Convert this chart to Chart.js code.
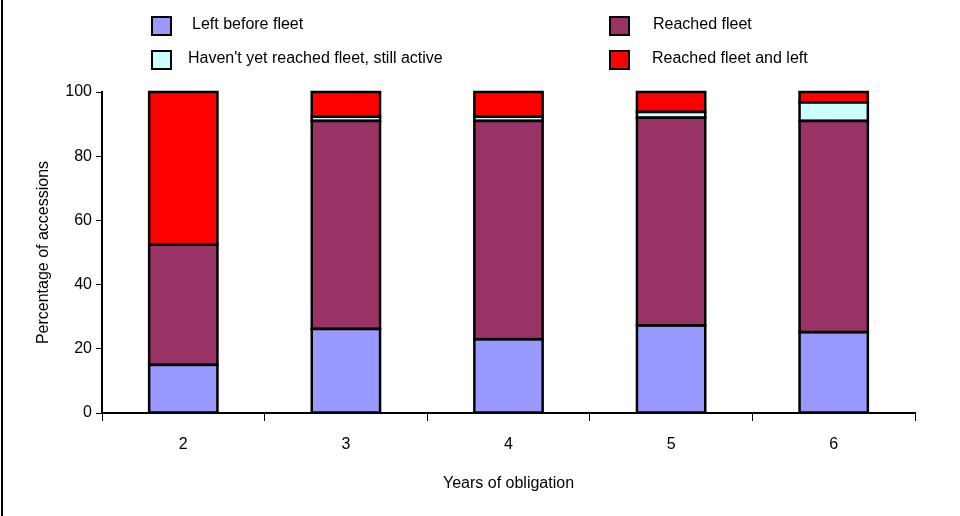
<!DOCTYPE html>
<html>
<head>
<meta charset="utf-8">
<script src="https://cdn.jsdelivr.net/npm/chart.js@4/dist/chart.umd.min.js"></script>
<style>
  html,body{margin:0;padding:0;background:#fff}
  #wrap{width:960px;height:516px;position:relative}
</style>
</head>
<body>
<div id="wrap"><canvas id="c"></canvas></div>
<script>
// data
const years        = ['2','3','4','5','6'];
const leftBefore   = [15.0, 26.2, 23.0, 27.3, 25.2];
const reached      = [37.5, 64.8, 68.0, 64.7, 65.8];
const notYet       = [0.0, 1.3, 1.3, 1.8, 5.8];
const reachedLeft  = [47.5, 7.7, 7.7, 6.2, 3.2];
const yTicks       = [0, 20, 40, 60, 80, 100];

const FONT = 'Liberation Sans, Arial, sans-serif';

const series = [
  { label:'Left before fleet', data:leftBefore, color:'#9999ff' },
  { label:'Haven\'t yet reached fleet, still active', data:notYet, color:'#ccffff' },
  { label:'Reached fleet', data:reached, color:'#993366' },
  { label:'Reached fleet and left', data:reachedLeft, color:'#ff0000' }
];
// stack order bottom -> top: left before, reached, not yet, reached & left
const stackOrder = [0, 2, 1, 3];

// legend cells: box x, row y, text offset
const legendCells = [
  { s:0, x:152, y:26, dx:40 },
  { s:2, x:610, y:26, dx:43 },
  { s:1, x:152, y:60, dx:36 },
  { s:3, x:610, y:60, dx:42 }
];

// ─ bar outlines, drawn from the bar elements the library laid out ─
const outlines = {
  id:'outlines',
  afterDatasetsDraw(chart) {
    const ctx = chart.ctx;
    ctx.save();
    ctx.strokeStyle = '#000';
    ctx.lineWidth = 2.5;
    chart.data.datasets.forEach((ds, di) => {
      chart.getDatasetMeta(di).data.forEach(bar => {
        const { x, y, base, width } = bar.getProps(['x','y','base','width'], true);
        if (Math.abs(base - y) < 0.5) return;
        ctx.strokeRect(x - width/2, Math.min(y, base), width, Math.abs(base - y));
      });
    });
    ctx.restore();
  }
};

// ─ custom legend + frame line ─
const deco = {
  id:'deco',
  afterDraw(chart) {
    const ctx = chart.ctx;
    ctx.save();
    ctx.strokeStyle = '#000';
    ctx.lineWidth = 2;
    ctx.beginPath(); ctx.moveTo(2,0); ctx.lineTo(2,516); ctx.stroke();

    ctx.font = `16px ${FONT}`;
    ctx.textBaseline = 'middle';
    legendCells.forEach(c => {
      const s = series[c.s];
      ctx.fillStyle = s.color;
      ctx.fillRect(c.x, c.y-9, 19, 18);
      ctx.lineWidth = 2;
      ctx.strokeRect(c.x, c.y-9, 19, 18);
      ctx.fillStyle = '#000';
      ctx.fillText(s.label, c.x + c.dx, c.y - 1);
    });
    ctx.restore();
  }
};

new Chart(document.getElementById('c'), {
  type:'bar',
  data:{
    labels: years,
    datasets: stackOrder.map(i => ({
      label: series[i].label,
      data: series[i].data,
      backgroundColor: series[i].color,
      borderWidth: 0,
      categoryPercentage: 1,
      barPercentage: 0.42
    }))
  },
  options:{
    responsive:true, maintainAspectRatio:false, animation:false,
    layout:{ padding:{ top:92, right:45, left:30, bottom:19 } },
    plugins:{ legend:{ display:false }, tooltip:{ enabled:false } },
    scales:{
      x:{
        stacked:true,
        grid:{ display:true, drawOnChartArea:false, color:'#000', tickLength:8, offset:true },
        border:{ color:'#000', width:2 },
        ticks:{ color:'#000', font:{ family:FONT, size:16 }, padding:14, maxRotation:0 },
        title:{ display:true, text:'Years of obligation', color:'#000', font:{ family:FONT, size:16 } },
        afterFit: s => { s.height = 84; }
      },
      y:{
        stacked:true, min:0, max:100,
        afterBuildTicks: s => { s.ticks = yTicks.map(v => ({ value:v })); },
        grid:{ display:true, drawOnChartArea:false, color:'#000', tickLength:6 },
        border:{ color:'#000', width:2 },
        ticks:{ color:'#000', font:{ family:FONT, size:16 }, padding:4 },
        title:{ display:true, text:'Percentage of accessions', color:'#000', font:{ family:FONT, size:16 } },
        afterFit: s => { s.width = 72; }
      }
    }
  },
  plugins:[outlines, deco]
});
</script>
</body>
</html>
